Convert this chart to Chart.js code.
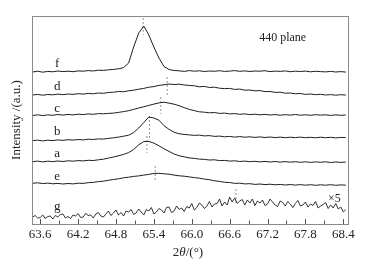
<!DOCTYPE html>
<html>
<head>
<meta charset="utf-8">
<script src="https://cdn.jsdelivr.net/npm/chart.js@4.4.1/dist/chart.umd.min.js"></script>
<style>
  html, body { margin: 0; padding: 0; background: #fff; }
  #wrap { width: 372px; height: 268px; }
</style>
</head>
<body>
<div id="wrap"><canvas id="xrd"></canvas></div>
<script>
// 2theta (deg) for the smooth scans a-f
const xs = [63.48, 63.56, 63.64, 63.72, 63.80, 63.88, 63.96, 64.04, 64.12, 64.20,
  64.28, 64.36, 64.44, 64.52, 64.60, 64.68, 64.76, 64.84, 64.92, 65.00,
  65.08, 65.16, 65.24, 65.32, 65.40, 65.48, 65.56, 65.64, 65.72, 65.80,
  65.88, 65.96, 66.04, 66.12, 66.20, 66.28, 66.36, 66.44, 66.52, 66.60,
  66.68, 66.76, 66.84, 66.92, 67.00, 67.08, 67.16, 67.24, 67.32, 67.40,
  67.48, 67.56, 67.64, 67.72, 67.80, 67.88, 67.96, 68.04, 68.12, 68.20,
  68.28, 68.36, 68.44];

// stacked intensities (offset a.u.)
const curveF = [152, 152.8, 151.8, 152.6, 152.2, 153, 152.4, 152.8, 152.3, 153.1,
  152.8, 153.4, 153, 153.8, 153.6, 154.2, 154.6, 155.2, 156.4, 161,
  177, 191, 198, 189, 177, 166, 157.5, 154.5, 153.5, 153.2,
  152.6, 153.4, 152.8, 153.2, 152.5, 153, 152.7, 153.3, 152.6, 152.9,
  153.4, 152.7, 153.1, 152.5, 153, 152.8, 153.3, 152.4, 152.9, 152.6,
  153.1, 152.3, 152.8, 152.5, 152.9, 152.2, 152.7, 152.4, 152.1, 152.6,
  152, 152.4, 151.9];
const curveD = [129, 129.6, 128.8, 129.5, 129.2, 129.9, 129.3, 130, 129.6, 130.3,
  129.9, 130.6, 130.2, 131, 130.7, 131.5, 131.8, 132.5, 132.3, 133.2,
  133.8, 134.8, 135.6, 136.8, 137.4, 138.6, 139.2, 140, 139.5, 139.8,
  139, 138.6, 138.2, 137.2, 137.6, 136.5, 136.8, 135.8, 135.4, 135.6,
  134.6, 134.9, 133.8, 134, 133.2, 133.4, 132.4, 132.5, 131.6, 131.8,
  130.8, 131, 130.2, 130.5, 129.6, 130, 129.3, 129.7, 129, 129.4,
  128.8, 129.3, 128.9];
const curveC = [108.5, 109.2, 108.4, 109.1, 108.7, 109.5, 108.9, 109.6, 109.1, 109.8,
  109.4, 110.1, 109.7, 110.4, 110.2, 110.6, 110.9, 111.6, 112.4, 113.3,
  114.6, 116, 117.2, 118.6, 119.9, 121.1, 121.8, 120.9, 119.8, 118.3,
  116.4, 114.6, 113.4, 112.2, 111.8, 111.2, 111.5, 110.6, 110.9, 110.1,
  110.4, 109.7, 110.1, 109.4, 109.8, 109.2, 109.6, 109, 109.4, 108.8,
  109.3, 108.9, 109.5, 108.8, 109.2, 108.7, 109.3, 108.9, 109.2, 108.6,
  109.1, 108.7, 109];
const curveB = [83.3, 83.9, 83.1, 83.8, 83.4, 84.1, 83.6, 84.3, 83.9, 84.5,
  84.1, 84.8, 84.5, 85.1, 84.9, 85.6, 86.2, 86.9, 87.8, 88.8,
  91.5, 96, 101.5, 107, 106, 103.8, 98.4, 94.6, 91.8, 90.2,
  89.6, 89.1, 88.6, 88.9, 88.1, 88.4, 87.6, 87.9, 87.2, 87.6,
  86.9, 87.4, 86.8, 87.2, 86.6, 87.1, 86.5, 87, 86.4, 86.9,
  86.3, 86.8, 86.4, 86.9, 86.3, 86.7, 86.2, 86.8, 86.3, 86.7,
  86.1, 86.6, 86.4];
const curveA = [62.3, 62.9, 62.1, 62.8, 62.4, 63, 62.5, 63.2, 62.8, 63.4,
  63.1, 63.7, 63.5, 64.2, 64.8, 65.9, 67, 68.2, 69.6, 71.4,
  74.5, 79.2, 82.4, 82.6, 80.9, 78.2, 75.3, 72.6, 70, 68.2,
  67.2, 66.1, 65.6, 64.9, 64.6, 64, 64.2, 63.4, 63.6, 62.9,
  63.2, 62.5, 62.9, 62.3, 62.7, 62.1, 62.6, 62, 62.5, 61.9,
  62.4, 61.8, 62.3, 61.7, 62.2, 61.6, 62.1, 61.7, 62.2, 61.5,
  62, 61.6, 61.9];
const curveE = [40.7, 41.2, 40.4, 40.9, 40.2, 40.6, 40, 40.5, 40.1, 40.8,
  40.6, 41.3, 41.6, 42.4, 42.8, 43.7, 44.5, 45.2, 46.2, 46.8,
  47.6, 48.1, 48.9, 49.6, 50.5, 50.7, 50.2, 49.8, 48.9, 48.2,
  47.8, 47.1, 46.4, 45.8, 44.9, 44.3, 43.2, 42.6, 41.7, 41.5,
  40.6, 40.8, 40.1, 40.3, 39.6, 40, 39.4, 39.8, 39.2, 39.6,
  39, 39.5, 38.9, 39.4, 38.8, 39.3, 38.7, 39.2, 38.8, 39.3,
  38.7, 39.1, 38.8];

// scan g (x5) is noisy, finer step
const gx = [63.48, 63.52, 63.56, 63.60, 63.64, 63.68, 63.72, 63.76, 63.80, 63.84,
  63.88, 63.92, 63.96, 64.00, 64.04, 64.08, 64.12, 64.16, 64.20, 64.24,
  64.28, 64.32, 64.36, 64.40, 64.44, 64.48, 64.52, 64.56, 64.60, 64.64,
  64.68, 64.72, 64.76, 64.80, 64.84, 64.88, 64.92, 64.96, 65.00, 65.04,
  65.08, 65.12, 65.16, 65.20, 65.24, 65.28, 65.32, 65.36, 65.40, 65.44,
  65.48, 65.52, 65.56, 65.60, 65.64, 65.68, 65.72, 65.76, 65.80, 65.84,
  65.88, 65.92, 65.96, 66.00, 66.04, 66.08, 66.12, 66.16, 66.20, 66.24,
  66.28, 66.32, 66.36, 66.40, 66.44, 66.48, 66.52, 66.56, 66.60, 66.64,
  66.68, 66.72, 66.76, 66.80, 66.84, 66.88, 66.92, 66.96, 67.00, 67.04,
  67.08, 67.12, 67.16, 67.20, 67.24, 67.28, 67.32, 67.36, 67.40, 67.44,
  67.48, 67.52, 67.56, 67.60, 67.64, 67.68, 67.72, 67.76, 67.80, 67.84,
  67.88, 67.92, 67.96, 68.00, 68.04, 68.08, 68.12, 68.16, 68.20, 68.24,
  68.28, 68.32, 68.36, 68.40, 68.44];
const curveG = [7, 8.5, 6, 6.5, 9, 5.5, 7.5, 8, 5, 8.5,
  7, 9.5, 10, 6, 7.5, 5.5, 9, 8, 10.5, 6.5,
  7, 10.5, 8.5, 9, 6, 10, 11.5, 8, 7, 10,
  13, 8.5, 11, 14, 9, 11.5, 8, 13, 12, 14.5,
  9.5, 11, 15, 12, 9, 14.5, 13, 16.5, 10, 12,
  15.5, 14, 11, 16.5, 17, 11.5, 13, 18, 14.5, 16,
  12.5, 17.5, 16, 20.5, 14, 16.5, 21, 19, 15.5, 18,
  22.5, 17, 20, 20.5, 25, 18, 22, 19, 27, 22,
  26, 20.5, 23, 24.5, 19, 24, 21, 25, 18.5, 23,
  21, 24, 18.5, 20, 25, 22, 19, 17.5, 23, 21.5,
  18, 22.5, 20, 16.5, 20.5, 23.5, 18, 19, 22, 17,
  20, 18.5, 22.5, 16, 18, 19.5, 21.5, 15.5, 19, 16,
  20.5, 15, 17, 12, 14.5];

// dashed peak markers
const peakX = [65.23, 65.61, 65.51, 65.33, 65.29, 65.42, 66.70];
const peakTop = [206, 147, 127, 108, 88, 58, 35];
const peakBottom = [189, 129, 110, 86, 71, 42, 19];

const curveNames = ['f', 'd', 'c', 'b', 'a', 'e', 'g'];
const nameY = [160, 137, 115, 92, 70, 47, 17];
const nameX = 63.87;

const xTicks = [63.6, 64.2, 64.8, 65.4, 66.0, 66.6, 67.2, 67.8, 68.4];
const minorTicks = [63.9, 64.5, 65.1, 65.7, 66.3, 66.9, 67.5, 68.1];

const serif = "'Liberation Serif', 'Times New Roman', serif";

const toPts = (xv, yv) => yv.map((v, i) => ({ x: xv[i], y: v }));

const datasets = [curveF, curveD, curveC, curveB, curveA, curveE].map((c) => ({
  data: toPts(xs, c),
  borderColor: '#1e1e1e',
  borderWidth: 1,
  pointRadius: 0,
  tension: 0,
}));
datasets.push({
  data: toPts(gx, curveG),
  borderColor: '#1e1e1e',
  borderWidth: 0.9,
  pointRadius: 0,
  tension: 0,
});
peakX.forEach((px, i) => {
  datasets.push({
    data: [{ x: px, y: peakTop[i] }, { x: px, y: peakBottom[i] }],
    borderColor: '#777',
    borderWidth: 0.8,
    borderDash: [2, 2],
    pointRadius: 0,
  });
});

const decor = {
  id: 'decor',
  afterDatasetsDraw(chart) {
    const { ctx, chartArea: a, scales: { x, y } } = chart;
    ctx.save();
    // inward ticks on bottom axis
    ctx.strokeStyle = '#555';
    ctx.lineWidth = 1;
    xTicks.concat(minorTicks).forEach((v) => {
      const px = Math.round(x.getPixelForValue(v)) + 0.5;
      const len = xTicks.includes(v) ? 5 : 3.5;
      ctx.beginPath();
      ctx.moveTo(px, a.bottom);
      ctx.lineTo(px, a.bottom - len);
      ctx.stroke();
    });
    // frame
    ctx.strokeStyle = '#8a8a8a';
    ctx.strokeRect(a.left + 0.5, a.top + 0.5, a.right - a.left - 1, a.bottom - a.top);

    ctx.fillStyle = '#222';
    ctx.textAlign = 'center';
    ctx.textBaseline = 'middle';
    ctx.font = '13px ' + serif;
    curveNames.forEach((n, i) => {
      ctx.fillText(n, x.getPixelForValue(nameX), y.getPixelForValue(nameY[i]));
    });
    ctx.font = '12px ' + serif;
    ctx.fillText('440 plane', x.getPixelForValue(67.44), y.getPixelForValue(186));
    ctx.fillText('\u00d75', x.getPixelForValue(68.26), y.getPixelForValue(25));

    // axis titles
    ctx.font = '13px ' + serif;
    ctx.save();
    ctx.translate(17, (a.top + a.bottom) / 2);
    ctx.rotate(-Math.PI / 2);
    ctx.fillText('Intensity /(a.u.)', 0, 0);
    ctx.restore();

    const parts = [['2', false], ['\u03b8', true], ['/(\u00b0)', false]];
    let w = 0;
    parts.forEach((p) => {
      ctx.font = (p[1] ? 'italic ' : '') + '13px ' + serif;
      w += ctx.measureText(p[0]).width;
    });
    let cx = 188 - w / 2;
    ctx.textAlign = 'left';
    parts.forEach((p) => {
      ctx.font = (p[1] ? 'italic ' : '') + '13px ' + serif;
      ctx.fillText(p[0], cx, 253);
      cx += ctx.measureText(p[0]).width;
    });
    ctx.restore();
  },
};

new Chart(document.getElementById('xrd'), {
  type: 'line',
  data: { datasets },
  options: {
    responsive: true,
    maintainAspectRatio: false,
    animation: false,
    layout: { padding: { left: 32, right: 23, top: 16, bottom: 0 } },
    plugins: { legend: { display: false }, tooltip: { enabled: false } },
    scales: {
      x: {
        type: 'linear',
        min: 63.47,
        max: 68.49,
        grid: { display: false, drawTicks: false, tickLength: 0 },
        border: { display: false },
        afterBuildTicks: (s) => { s.ticks = xTicks.map((v) => ({ value: v })); },
        afterFit: (s) => { s.height = 44; },
        ticks: {
          color: '#222',
          font: { family: serif, size: 13 },
          padding: 3,
          maxRotation: 0,
          autoSkip: false,
          callback: (v) => v.toFixed(1),
        },
      },
      y: { display: false, min: 0, max: 208 },
    },
  },
  plugins: [decor],
});
</script>
</body>
</html>
